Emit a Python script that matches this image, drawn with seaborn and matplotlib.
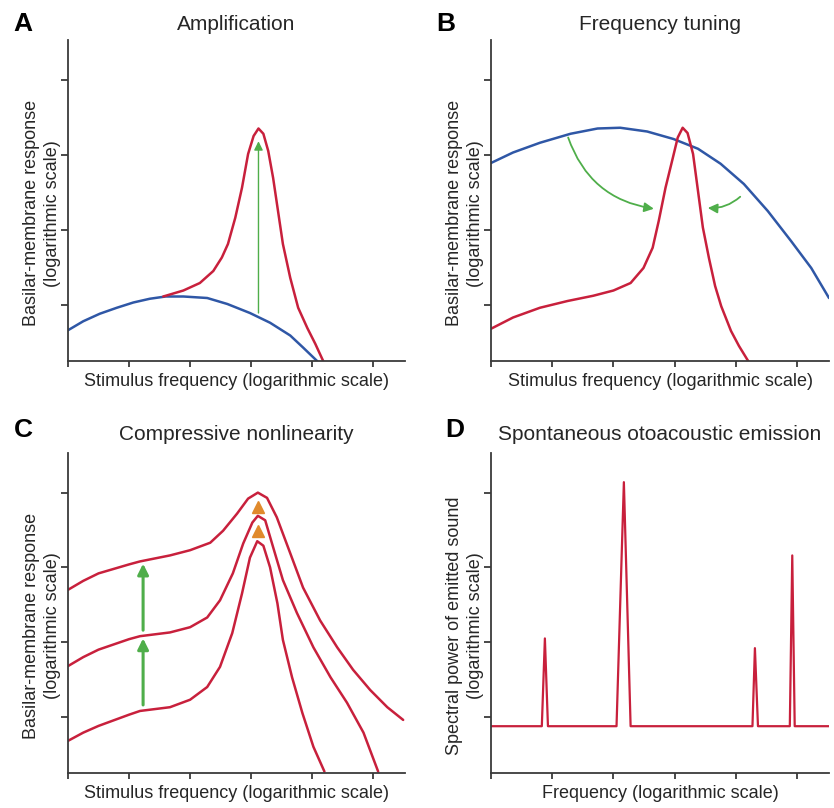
import matplotlib
matplotlib.use("Agg")
import matplotlib.pyplot as plt
import seaborn as sns
from matplotlib.patches import FancyArrowPatch

sns.set_theme(style="ticks")
plt.rcParams['font.family'] = ['Liberation Sans', 'DejaVu Sans']

# ---------------- data ----------------
# Panel A
a_blue_x = [0, 0.25, 0.52, 0.8, 1.07, 1.34, 1.6, 1.89, 2.28, 2.61, 2.98, 3.31, 3.64, 3.85, 4.08]
a_blue_y = [0.66, 0.78, 0.88, 0.96, 1.03, 1.08, 1.11, 1.11, 1.09, 1.01, 0.89, 0.76, 0.59, 0.43, 0.25]
a_red_x = [1.56, 1.89, 2.16, 2.38, 2.52, 2.62, 2.74, 2.85, 2.95, 3.04, 3.12, 3.2, 3.28, 3.36, 3.44,
           3.52, 3.64, 3.77, 3.92, 4.05, 4.18]
a_red_y = [1.11, 1.19, 1.29, 1.45, 1.63, 1.81, 2.16, 2.56, 3.01, 3.25, 3.35, 3.28, 3.05, 2.69, 2.25,
           1.81, 1.36, 0.96, 0.69, 0.48, 0.25]
a_arrow = [3.12, 0.89, 3.18]   # x, y_from, y_to

# Panel B
b_blue_x = [0, 0.36, 0.80, 1.3, 1.74, 2.11, 2.55, 2.98, 3.38, 3.75, 4.13, 4.52, 4.9, 5.23, 5.52]
b_blue_y = [2.89, 3.03, 3.16, 3.28, 3.35, 3.36, 3.31, 3.21, 3.08, 2.88, 2.61, 2.25, 1.85, 1.49, 1.09]
b_red_x = [0, 0.36, 0.8, 1.25, 1.67, 2.0, 2.28, 2.49, 2.64, 2.74, 2.85, 2.97, 3.05, 3.13, 3.21, 3.3,
           3.38, 3.46, 3.56, 3.66, 3.76, 3.92, 4.05, 4.2]
b_red_y = [0.68, 0.83, 0.96, 1.05, 1.12, 1.19, 1.29, 1.49, 1.76, 2.12, 2.56, 2.96, 3.23, 3.36, 3.29, 3.01,
           2.52, 2.03, 1.62, 1.25, 0.98, 0.65, 0.45, 0.25]
b_arrow_left = [(1.26, 3.23), (2.66, 2.28)]
b_arrow_right = [(4.07, 2.44), (3.54, 2.29)]

# Panel C (three sound levels)
c_low_x = [0, 0.25, 0.5, 1.0, 1.18, 1.67, 2.0, 2.28, 2.49, 2.69, 2.85, 2.98, 3.10, 3.2, 3.31, 3.43,
           3.52, 3.67, 3.84, 4.02, 4.2]
c_low_y = [0.68, 0.79, 0.88, 1.03, 1.08, 1.13, 1.23, 1.4, 1.67, 2.12, 2.65, 3.13, 3.35, 3.29, 3.0, 2.52,
           2.03, 1.53, 1.05, 0.6, 0.27]
c_mid_x = [0, 0.25, 0.5, 1.0, 1.18, 1.67, 2.0, 2.28, 2.49, 2.7, 2.87, 3.02, 3.11, 3.23, 3.36, 3.52,
           3.75, 4.02, 4.3, 4.57, 4.84, 5.08]
c_mid_y = [1.68, 1.8, 1.9, 2.04, 2.08, 2.13, 2.2, 2.33, 2.56, 2.92, 3.32, 3.6, 3.69, 3.63, 3.27, 2.83,
           2.39, 1.93, 1.53, 1.19, 0.79, 0.27]
c_high_x = [0, 0.25, 0.5, 1.0, 1.18, 1.67, 2.0, 2.33, 2.54, 2.77, 2.95, 3.11, 3.26, 3.42, 3.64, 3.85,
            4.13, 4.41, 4.67, 4.95, 5.23, 5.49]
c_high_y = [2.70, 2.82, 2.92, 3.04, 3.08, 3.16, 3.23, 3.33, 3.49, 3.72, 3.92, 4.0, 3.93, 3.67, 3.19, 2.73,
            2.29, 1.93, 1.63, 1.36, 1.13, 0.96]
c_green_x = 1.23
c_green_from = [1.16, 2.16]
c_green_to = [2.05, 3.05]
c_orange_x = [3.11, 3.11]
c_orange_y = [3.49, 3.81]

# Panel D
d_x = [0, 0.83, 0.88, 0.93, 2.05, 2.17, 2.28, 4.27, 4.31, 4.36, 4.88, 4.92, 4.96, 5.55]
d_y = [0.876, 0.876, 2.05, 0.876, 0.876, 4.14, 0.876, 0.876, 1.92, 0.876, 0.876, 3.16, 0.876, 0.876]

x_ticks = [0, 1, 2, 3, 4, 5]
y_ticks = [1, 2, 3, 4]

RED = "#c8203c"
BLUE = "#2f57a6"
GREEN = "#4fae4a"
ORANGE = "#e08a2c"

W, H = 834, 808
fig = plt.figure(figsize=(W / 100, H / 100), dpi=100)


def add_axes(left, top, right, bottom):
    return fig.add_axes([left / W, 1 - bottom / H, (right - left) / W, (bottom - top) / H])


axA = add_axes(68, 40, 405, 361)
axB = add_axes(491, 40, 829, 361)
axC = add_axes(68, 453, 405, 773)
axD = add_axes(491, 453, 829, 773)

for ax in (axA, axB, axC, axD):
    ax.set_xlim(0, 5.52)
    ax.set_ylim(0.25, 4.53)
    ax.set_xticks(x_ticks)
    ax.set_yticks(y_ticks)
    ax.set_xticklabels([])
    ax.set_yticklabels([])
    for s in ("top", "right"):
        ax.spines[s].set_visible(False)
    for s in ("left", "bottom"):
        ax.spines[s].set_color("#3a3a3a")
        ax.spines[s].set_linewidth(1.3)
    ax.tick_params(axis="x", length=4, width=1.3, color="#3a3a3a", direction="out")
    ax.tick_params(axis="y", length=5, width=1.3, color="#3a3a3a", direction="out")
    ax.set_facecolor("white")


def line(ax, x, y, color, lw=1.8):
    sns.lineplot(x=x, y=y, ax=ax, color=color, lw=lw, sort=False, estimator=None, legend=False)
    ax.lines[-1].set_solid_joinstyle("round")
    ax.lines[-1].set_solid_capstyle("round")


def arrow(ax, p0, p1, rad=0.0, lw=1.5, ms=14):
    ax.add_patch(FancyArrowPatch(p0, p1, arrowstyle="-|>", mutation_scale=ms,
                                 connectionstyle=f"arc3,rad={rad}", color=GREEN, lw=lw,
                                 shrinkA=0, shrinkB=0))


# A
line(axA, a_blue_x, a_blue_y, BLUE)
line(axA, a_red_x, a_red_y, RED)
arrow(axA, (a_arrow[0], a_arrow[1]), (a_arrow[0], a_arrow[2]), lw=1.0, ms=13)

# B
line(axB, b_blue_x, b_blue_y, BLUE)
line(axB, b_red_x, b_red_y, RED)
arrow(axB, b_arrow_left[0], b_arrow_left[1], rad=0.3, lw=1.3, ms=14)
arrow(axB, b_arrow_right[0], b_arrow_right[1], rad=-0.2, lw=1.3, ms=14)

# C
line(axC, c_low_x, c_low_y, RED)
line(axC, c_mid_x, c_mid_y, RED)
line(axC, c_high_x, c_high_y, RED)
for y0, y1 in zip(c_green_from, c_green_to):
    arrow(axC, (c_green_x, y0), (c_green_x, y1), lw=2.2, ms=16)
axC.plot(c_orange_x, c_orange_y, ls="none", marker="^", ms=8, color=ORANGE, mec=ORANGE)

# D
line(axD, d_x, d_y, RED, lw=1.6)

# labels
xlab_kw = dict(fontsize=13, labelpad=1)
ylab_kw = dict(fontsize=13, linespacing=1.35)
axA.set_xlabel("Stimulus frequency (logarithmic scale)", **xlab_kw)
axB.set_xlabel("Stimulus frequency (logarithmic scale)", **xlab_kw)
axC.set_xlabel("Stimulus frequency (logarithmic scale)", **xlab_kw)
axD.set_xlabel("Frequency (logarithmic scale)", **xlab_kw)
for ax in (axA, axB, axC):
    ax.set_ylabel("Basilar-membrane response\n(logarithmic scale)", **ylab_kw)
    ax.yaxis.set_label_coords(-0.02, 0.46)
axD.set_ylabel("Spectral power of emitted sound\n(logarithmic scale)", **ylab_kw)
axD.yaxis.set_label_coords(-0.02, 0.46)

# titles and panel letters
def ftext(px, py, s, **kw):
    fig.text(px / W, 1 - py / H, s, va="center", **kw)

ftext(236, 24, "Amplification", fontsize=15, ha="center")
ftext(660, 24, "Frequency tuning", fontsize=15, ha="center")
ftext(236, 435, "Compressive nonlinearity", fontsize=15, ha="center")
ftext(660, 435, "Spontaneous otoacoustic emission", fontsize=15, ha="center")
ftext(13, 24, "A", fontsize=19, fontweight="bold", ha="left", color="black")
ftext(436, 24, "B", fontsize=19, fontweight="bold", ha="left", color="black")
ftext(14, 430, "C", fontsize=19, fontweight="bold", ha="left", color="black")
ftext(445, 430, "D", fontsize=19, fontweight="bold", ha="left", color="black")

fig.savefig("out.png", dpi=100, facecolor="white")
